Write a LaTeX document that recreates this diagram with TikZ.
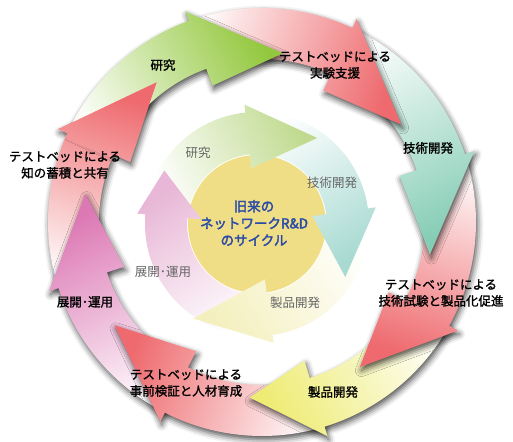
\documentclass[tikz,border=0pt]{standalone}
\usepackage{fontspec}
\newfontfamily\jpfont{Noto Sans CJK JP}
\newfontfamily\jpbold{Noto Sans CJK JP}[FakeBold=1.4]
\newfontfamily\jpheavy{Noto Sans CJK JP}[FakeBold=2.6]
\usetikzlibrary{shadows.blur}

\definecolor{grnhead}{HTML}{93C83E}
\definecolor{redhead}{HTML}{EE6A6E}
\definecolor{tealhead}{HTML}{86CDB6}
\definecolor{yelhead}{HTML}{EEEC74}
\definecolor{pnkhead}{HTML}{DC78B4}
\definecolor{grnsoft}{HTML}{BFDA8E}
\definecolor{tealsoft}{HTML}{A8DAD2}
\definecolor{yelsoft}{HTML}{F4F0BE}
\definecolor{pnksoft}{HTML}{E8B6D6}
\definecolor{hubyellow}{HTML}{F0DE86}
\definecolor{hubblue}{HTML}{2B4BA6}

\tikzset{
  ring shadow/.style={blur shadow={shadow xshift=1.5pt, shadow yshift=-3.5pt,
      shadow blur radius=6pt, shadow opacity=70}},
  outer label/.style={font=\jpbold\fontsize{12.5}{16.5}\selectfont, align=center, text=black},
  inner label/.style={font=\jpfont\fontsize{12.5}{15}\selectfont, text=black!60},
  hub text/.style={font=\jpheavy\fontsize{13.5}{17}\selectfont, align=center, text=hubblue},
}

% outer ring arrow: tail, base, tip angle, tip radius, colour
\newcommand{\outerarrow}[6][ring shadow]{%
  \pgfmathsetmacro{\arrowshade}{(#2+#4)/2}%
  \shade[#1, left color=#6!5, middle color=#6!55, right color=#6, shading angle=\arrowshade]
    (#2:214) arc[start angle=#2, end angle=#3, radius=214]
    -- (#3:224) -- (#4:#5) -- (#3:145) -- (#3:163)
    arc[start angle=#3, end angle=#2, radius=163] -- cycle;
}

% inner ring arrow: tail, base, tip angle, tip radius, colour
\newcommand{\innerarrow}[5]{%
  \pgfmathsetmacro{\arrowshade}{(#1+#3)/2}%
  \shade[left color=white, right color=#5, shading angle=\arrowshade]
    (#1:112) arc[start angle=#1, end angle=#2, radius=112]
    -- (#2:120) -- (#3:#4) -- (#2:56) -- (#2:70)
    arc[start angle=#2, end angle=#1, radius=70] -- cycle;
}

\begin{document}
\begin{tikzpicture}[x=1pt, y=1pt]
\useasboundingbox (0,0) rectangle (513,441);

% Outer ring, each arrow drawn before the one pointing to it.
\begin{scope}[shift={(262,219)}]
  \outerarrow{-162}{-204.5}{-233}{175}{redhead}
  \outerarrow{-117}{-162}{-189}{179}{pnkhead}
  \outerarrow{-73}{-117}{-145}{180}{redhead}
  \outerarrow{-29}{-73}{-94}{176}{yelhead}
  \outerarrow{18.5}{-29}{-56}{175}{redhead}
  \outerarrow{65}{18.5}{-11}{171}{tealhead}
  \outerarrow{110}{65}{35}{170}{redhead}
  \outerarrow{155}{110}{83}{170}{grnhead}
  % head of the last arrow over the tail of the first
  \begin{scope}
    \clip (0,0) -- (157:300) -- (137:330) -- (117:300) -- cycle;
    \outerarrow[]{-162}{-204.5}{-233}{175}{redhead}
  \end{scope}
\end{scope}

% Inner ring.
\begin{scope}[shift={(257,217)}]
  \fill[hubyellow] (0,0) circle[radius=69];
  \innerarrow{-82}{-185}{-210}{107}{pnksoft}
  \innerarrow{8}{-82}{-124}{114}{yelsoft}
  \innerarrow{96}{8}{-31}{103}{tealsoft}
  \innerarrow{175}{96}{55}{105}{grnsoft}
  \begin{scope}
    \clip (0,0) -- (177:200) -- (160:220) -- (138:200) -- cycle;
    \innerarrow{-82}{-185}{-210}{107}{pnksoft}
  \end{scope}
\end{scope}

% Outer labels.
\node[outer label] (res) at (163,376) {研究};
\node[outer label] (supp) at (335,376) {テストベッドによる\\実験支援};
\node[outer label] (tech) at (428,293) {技術開発};
\node[outer label] (trial) at (441,148) {テストベッドによる\\技術試験と製品化促進};
\node[outer label] (prod) at (333,49) {製品開発};
\node[outer label] (valid) at (186,58) {テストベッドによる\\事前検証と人材育成};
\node[outer label] (ops) at (85,139) {展開･運用};
\node[outer label] (share) at (65,276) {テストベッドによる\\知の蓄積と共有};

% Inner labels.
\node[inner label] (ires) at (198,288) {研究};
\node[inner label] (itech) at (332,258) {技術開発};
\node[inner label] (iprod) at (295,138) {製品開発};
\node[inner label] (iops) at (163,169) {展開･運用};

% Hub text.
\node[hub text] (cycle) at (254,218) {旧来の\\ネットワークR\&D\\のサイクル};
\end{tikzpicture}
\end{document}
